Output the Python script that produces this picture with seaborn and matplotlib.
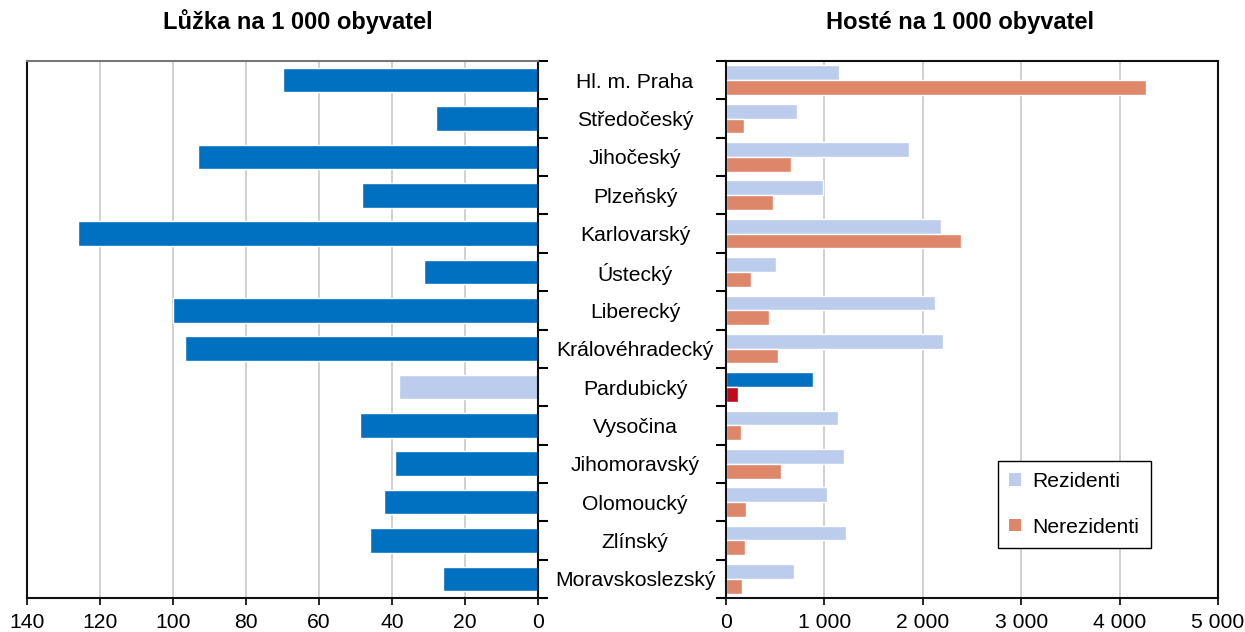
import matplotlib
matplotlib.use("Agg")
import matplotlib.pyplot as plt
import seaborn as sns
import pandas as pd
import numpy as np
from matplotlib.ticker import FixedLocator, FuncFormatter

# ---- data ----
regions = ["Hl. m. Praha", "Středočeský", "Jihočeský", "Plzeňský", "Karlovarský",
           "Ústecký", "Liberecký", "Královéhradecký", "Pardubický", "Vysočina",
           "Jihomoravský", "Olomoucký", "Zlínský", "Moravskoslezský"]
beds = [70.0, 27.9, 93.2, 48.2, 126.0, 31.3, 100.0, 96.7, 38.2, 48.7, 39.2, 42.1, 45.9, 26.1]
residents = [1147, 720, 1856, 988, 2181, 508, 2124, 2205, 882, 1136, 1203, 1023, 1217, 695]
nonresidents = [4270, 187, 656, 476, 2385, 258, 438, 526, 120, 155, 561, 205, 191, 166]
series_names = ["Rezidenti", "Nerezidenti"]
left_ticks = [0, 20, 40, 60, 80, 100, 120, 140]
right_ticks = [0, 1000, 2000, 3000, 4000, 5000]
title_left = "Lůžka na 1 000 obyvatel"
title_right = "Hosté na 1 000 obyvatel"
highlight = "Pardubický"

# ---- style ----
sns.set_theme(style="white")
plt.rcParams["font.family"] = ["Liberation Sans", "DejaVu Sans"]
plt.rcParams["text.color"] = "black"
plt.rcParams["xtick.labelcolor"] = "black"
plt.rcParams["ytick.labelcolor"] = "black"
plt.rcParams["legend.labelcolor"] = "black"

c_dark = "#0070C0"
c_light = "#BBCCEC"
c_salmon = "#DE866A"
c_red = "#C00A1E"
grid_c = "#C8C8C8"
FS = 15.2

fig = plt.figure(figsize=(12.45, 6.32), dpi=100)
ax_bottom = 1 - 598 / 632
ax_h = (598 - 61) / 632
ax1 = fig.add_axes([27 / 1245, ax_bottom, (538 - 27) / 1245, ax_h])
ax2 = fig.add_axes([726 / 1245, ax_bottom, (1218 - 726) / 1245, ax_h])

# left panel
bed_colors = [c_light if r == highlight else c_dark for r in regions]
sns.barplot(x=beds, y=regions, hue=regions, palette=bed_colors, legend=False,
            width=0.64, saturation=1, orient="h", ax=ax1)
ax1.set_xlim(140, 0)
ax1.set_ylim(len(regions) - 0.5, -0.5)
ax1.xaxis.set_major_locator(FixedLocator(left_ticks))
ax1.xaxis.set_major_formatter(FuncFormatter(lambda v, p: f"{int(v)}"))
ax1.yaxis.set_major_locator(FixedLocator(np.arange(len(regions))))
ax1.yaxis.set_minor_locator(FixedLocator(np.arange(len(regions) + 1) - 0.5))
ax1.yaxis.tick_right()
ax1.tick_params(axis="y", which="major", length=0, labelright=False, labelleft=False)
ax1.tick_params(axis="y", which="minor", length=7, width=1.5, direction="out",
                color="black", right=True, left=False)
ax1.tick_params(axis="x", which="major", length=5, width=1.2, direction="out",
                color="black", labelsize=FS, pad=6, bottom=True)

# right panel
df = pd.DataFrame({
    "region": regions * 2,
    "value": residents + nonresidents,
    "series": [series_names[0]] * len(regions) + [series_names[1]] * len(regions),
})
sns.barplot(data=df, x="value", y="region", hue="series", palette=[c_light, c_salmon],
            width=0.77, saturation=1, errorbar=None, orient="h", ax=ax2)
hi = regions.index(highlight)
for cont, col in zip(ax2.containers, [c_dark, c_red]):
    cont.patches[hi].set_facecolor(col)
ax2.set_xlim(0, 5000)
ax2.set_ylim(len(regions) - 0.5, -0.5)
ax2.xaxis.set_major_locator(FixedLocator(right_ticks))
ax2.xaxis.set_major_formatter(FuncFormatter(lambda v, p: f"{int(v):,}".replace(",", " ")))
ax2.yaxis.set_major_locator(FixedLocator(np.arange(len(regions))))
ax2.set_yticklabels(regions)
ax2.yaxis.set_minor_locator(FixedLocator(np.arange(len(regions) + 1) - 0.5))
ax2.tick_params(axis="y", which="major", length=0, labelsize=FS, pad=65.5, left=True)
for lbl in ax2.get_yticklabels():
    lbl.set_horizontalalignment("center")
    lbl.set_color("black")
ax2.tick_params(axis="y", which="minor", length=7, width=1.5, direction="out",
                color="black", left=True)
ax2.tick_params(axis="x", which="major", length=5, width=1.2, direction="out",
                color="black", labelsize=FS, pad=6, bottom=True)

for ax in (ax1, ax2):
    ax.set_xlabel("")
    ax.set_ylabel("")
    ax.grid(axis="x", color=grid_c, linewidth=1.2)
    ax.grid(axis="y", visible=False)
    ax.set_axisbelow(True)
    for s in ax.spines.values():
        s.set_visible(True)
        s.set_color("#111111")
        s.set_linewidth(1.5)
ax1.spines["top"].set_color("#777777")

leg = ax2.legend(loc="upper left", bbox_to_anchor=(0.552, 0.256), fontsize=FS,
                 handlelength=0.55, handleheight=0.55, handletextpad=0.55,
                 labelspacing=1.25, borderpad=0.55, borderaxespad=0,
                 frameon=True, fancybox=False, framealpha=1)
leg.get_frame().set_edgecolor("black")
leg.get_frame().set_linewidth(1.0)
for h in leg.legend_handles:
    h.set_edgecolor("none")
for t in leg.get_texts():
    t.set_color("black")

fig.text(298 / 1245, 1 - 22 / 632, title_left, ha="center", va="center",
         fontsize=17, fontweight="bold")
fig.text(960 / 1245, 1 - 22 / 632, title_right, ha="center", va="center",
         fontsize=17, fontweight="bold")

fig.savefig("out.png", dpi=100, facecolor="white")
